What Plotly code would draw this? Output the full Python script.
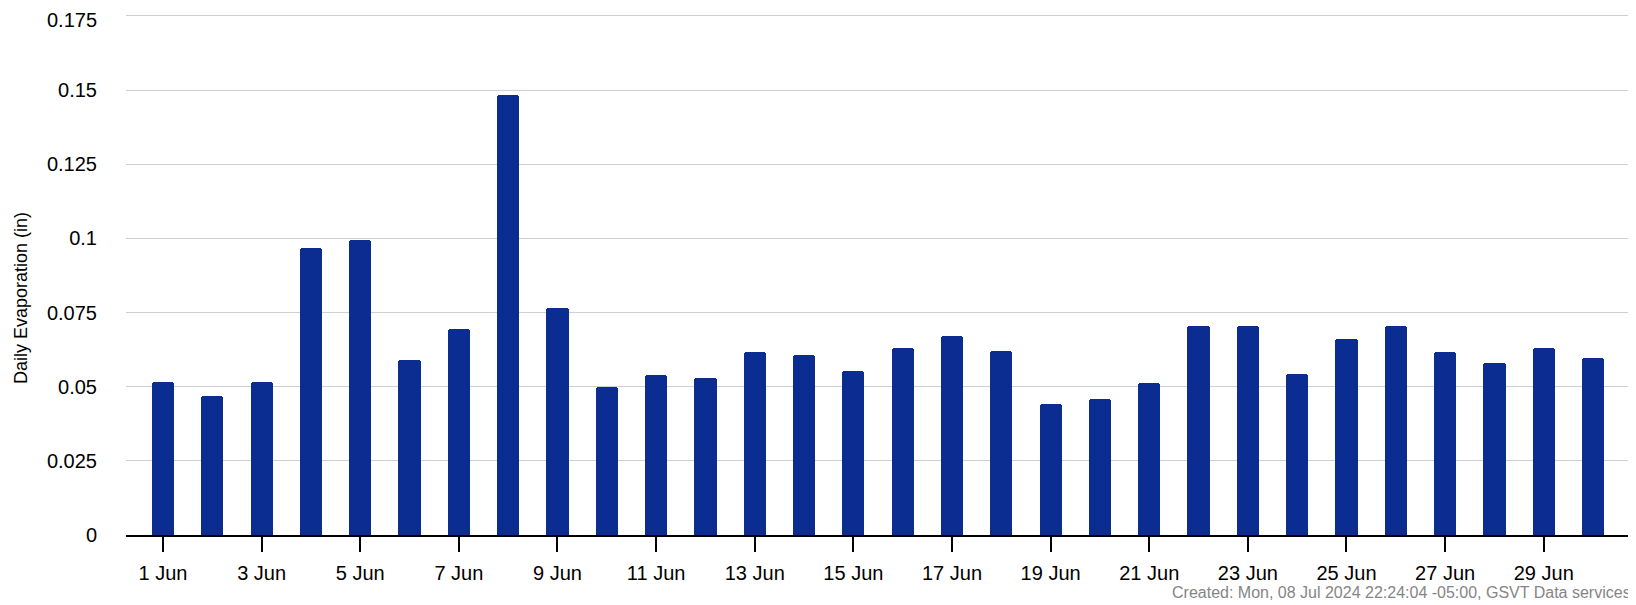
import plotly.graph_objects as go

days = list(range(1, 31))
evaporation = [0.0517, 0.0467, 0.0517, 0.0968, 0.0995, 0.0591, 0.0693, 0.1483, 0.0766, 0.0498,
               0.0540, 0.0530, 0.0618, 0.0607, 0.0552, 0.0632, 0.0672, 0.0621, 0.0441, 0.0460,
               0.0513, 0.0705, 0.0705, 0.0544, 0.0662, 0.0704, 0.0617, 0.0580, 0.0630, 0.0597]
tick_days = list(range(1, 30, 2))
tick_labels = [f"{d} Jun" for d in tick_days]
y_ticks = [0, 0.025, 0.05, 0.075, 0.1, 0.125, 0.15, 0.175]
y_labels = ["0", "0.025", "0.05", "0.075", "0.1", "0.125", "0.15", "0.175"]
y_title = "Daily Evaporation (in)"
footnote = "Created: Mon, 08 Jul 2024 22:24:04 -05:00, GSVT Data services"

# page body has an 8px default margin; figure sized so the chart fills the 1636x605 window
W, H = 1628, 597
L, R, T, B = 118, 3, 5, 70
PW, PH = W - L - R, H - T - B

fig = go.Figure(go.Bar(
    x=days, y=evaporation, width=0.45,
    marker=dict(color="#0b2c91", line=dict(width=0), cornerradius=3),
))

fig.update_layout(
    width=W, height=H,
    margin=dict(l=L, r=R, t=T, b=B),
    paper_bgcolor="white", plot_bgcolor="white",
    font=dict(family="Liberation Sans, Arial, sans-serif", color="#000"),
    showlegend=False,
    bargap=0,
)
fig.update_xaxes(
    range=[0.25, 30.81], tickvals=tick_days, ticktext=tick_labels,
    ticks="outside", ticklen=15, tickwidth=2, tickcolor="#000",
    showline=True, linecolor="#000", linewidth=2,
    showgrid=False, zeroline=False, automargin=False,
    tickfont=dict(size=20, color="#000"),
    ticklabelstandoff=4,
)
# top label drawn as an annotation nudged down slightly so it stays inside the page
fig.update_yaxes(
    range=[0, 0.176], tickvals=y_ticks, ticktext=y_labels[:-1] + [""],
    showgrid=True, gridcolor="#cfcfcf", gridwidth=1,
    zeroline=False, showline=False, automargin=False,
    tickfont=dict(size=20, color="#000"),
    ticklabelstandoff=28,
)
fig.add_annotation(
    text=y_labels[-1], xref="paper", yref="y", x=0, y=y_ticks[-1],
    xanchor="right", yanchor="middle", xshift=-27, yshift=-4, showarrow=False,
    font=dict(size=20, color="#000"),
)
fig.add_annotation(
    text=y_title, xref="paper", yref="paper",
    x=-105 / PW, y=(H - B - 290) / PH,
    xanchor="center", yanchor="middle", textangle=-90, showarrow=False,
    font=dict(size=18, color="#000"),
)
fig.add_annotation(
    text=footnote, xref="paper", yref="paper", x=1.0, y=(H - B - 584) / PH,
    xanchor="right", yanchor="middle", showarrow=False,
    font=dict(size=16, color="#858585"),
)

fig.write_html("out.html")
